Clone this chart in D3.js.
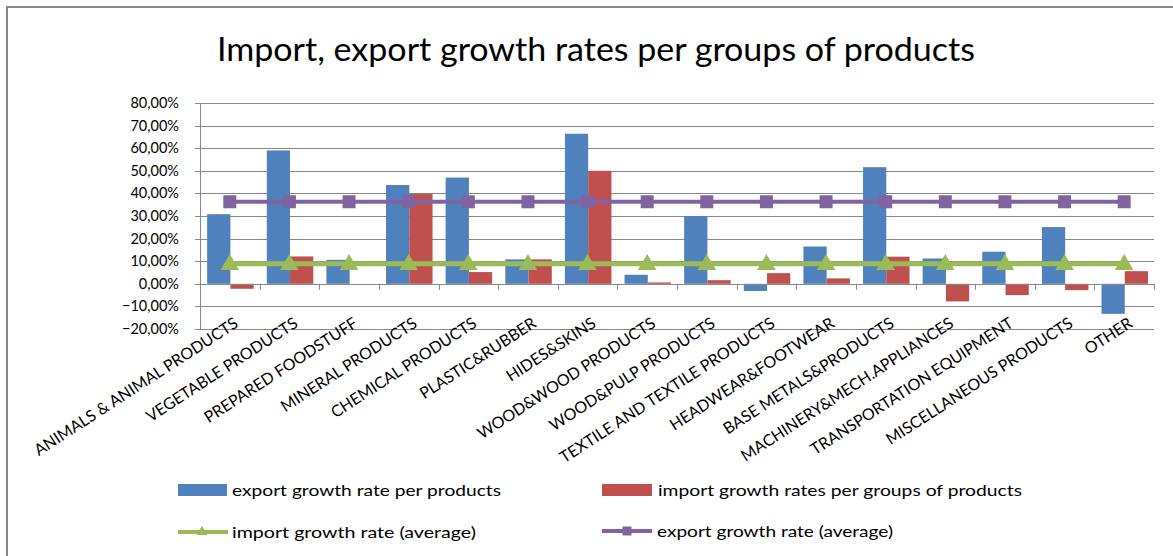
<!DOCTYPE html>
<html>
<head>
<meta charset="utf-8">
<script src="https://cdn.jsdelivr.net/npm/d3@7"></script>
<style>
  html, body { margin: 0; padding: 0; background: #fff; }
  svg { display: block; }
</style>
</head>
<body>
<svg id="chart" width="1173" height="556"></svg>
<script>
const categories = [
  "ANIMALS & ANIMAL PRODUCTS", "VEGETABLE PRODUCTS", "PREPARED FOODSTUFF", "MINERAL PRODUCTS",
  "CHEMICAL PRODUCTS", "PLASTIC&RUBBER", "HIDES&SKINS", "WOOD&WOOD PRODUCTS",
  "WOOD&PULP PRODUCTS", "TEXTILE AND TEXTILE PRODUCTS", "HEADWEAR&FOOTWEAR", "BASE METALS&PRODUCTS",
  "MACHINERY&MECH.APPLIANCES", "TRANSPORTATION EQUIPMENT", "MISCELLANEOUS PRODUCTS", "OTHER"
];
const exportRates = [30.8, 59.0, 10.6, 43.7, 47.0, 10.8, 66.4, 4.0, 30.0, -3.2, 16.5, 51.6, 11.2, 14.2, 25.1, -13.3];
const importRates = [-2.2, 12.1, 0.0, 39.8, 5.2, 10.8, 50.0, 0.6, 1.6, 4.7, 2.4, 12.0, -7.8, -5.0, -2.8, 5.6];
const importAverage = [8.9, 8.9, 8.9, 8.9, 8.9, 8.9, 8.9, 8.9, 8.9, 8.9, 8.9, 8.9, 8.9, 8.9, 8.9, 8.9];
const exportAverage = [36.3, 36.3, 36.3, 36.3, 36.3, 36.3, 36.3, 36.3, 36.3, 36.3, 36.3, 36.3, 36.3, 36.3, 36.3, 36.3];
const yTicks = [-20, -10, 0, 10, 20, 30, 40, 50, 60, 70, 80];
const titleText = "Import, export growth rates per groups of products";
const legendLabels = [
  "export growth rate per products",
  "import growth rates per groups of products",
  "import growth rate (average)",
  "export growth rate (average)"
];

(function () {
const C_EXP = "#4F81BD", C_IMP = "#C0504D", C_GREEN = "#9BBB59", C_PURPLE = "#8064A2";
const FONT = "Lato, 'Open Sans', sans-serif";

const svg = d3.select("#chart");

// outer chart border (left + top visible)
svg.append("path").attr("d", "M7,556 V7 H1173")
  .attr("fill", "none").attr("stroke", "#888").attr("stroke-width", 2);

// title
svg.append("text")
  .attr("x", 217).attr("y", 61)
  .attr("font-family", FONT).attr("font-size", 32)
  .attr("textLength", 758).attr("lengthAdjust", "spacingAndGlyphs")
  .attr("fill", "#000")
  .text(titleText);

const pLeft = 200, pRight = 1154, pTop = 103, pBottom = 329;

const x = d3.scaleBand().domain(categories).range([pLeft, pRight]).padding(0);
const bw = x.bandwidth();
const xi = d3.scaleBand().domain(["export", "import"]).range([bw * 0.12, bw * 0.9]).padding(0);
const y = d3.scaleLinear().domain([-20, 80]).range([pBottom, pTop]);

// gridlines
svg.append("g").selectAll("line").data(yTicks).join("line")
  .attr("x1", pLeft - 5).attr("x2", pRight)
  .attr("y1", d => Math.round(y(d)) + 0.5).attr("y2", d => Math.round(y(d)) + 0.5)
  .attr("stroke", "#888").attr("stroke-width", 1);

// y axis labels
svg.append("g").selectAll("text").data(yTicks).join("text")
  .attr("x", 179).attr("y", d => y(d))
  .attr("dy", "0.35em")
  .attr("text-anchor", "end")
  .attr("font-family", FONT).attr("font-size", 14.5).attr("fill", "#000")
  .text(d => d3.format(".2f")(d).replace(".", ",") + "%");

// y axis line
svg.append("line").attr("x1", pLeft + 0.5).attr("x2", pLeft + 0.5)
  .attr("y1", pTop).attr("y2", pBottom).attr("stroke", "#888");

// bars
const rows = categories.map((c, i) => ({ c, exp: exportRates[i], imp: importRates[i] }));
const g = svg.append("g");
rows.forEach(r => {
  [["export", r.exp, C_EXP], ["import", r.imp, C_IMP]].forEach(([k, v, col]) => {
    g.append("rect")
      .attr("x", x(r.c) + xi(k))
      .attr("width", xi.bandwidth())
      .attr("y", y(Math.max(0, v)))
      .attr("height", Math.abs(y(v) - y(0)))
      .attr("fill", col);
  });
});

// x axis line at 0 and ticks
svg.append("line").attr("x1", pLeft).attr("x2", pRight)
  .attr("y1", Math.round(y(0)) + 0.5).attr("y2", Math.round(y(0)) + 0.5).attr("stroke", "#888");
const boundaries = categories.map(c => x(c)).concat([pRight]);
svg.append("g").selectAll("line").data(boundaries).join("line")
  .attr("x1", d => Math.round(d) + 0.5).attr("x2", d => Math.round(d) + 0.5)
  .attr("y1", y(0)).attr("y2", y(0) + 6).attr("stroke", "#888");

// x labels
svg.append("g").selectAll("text").data(categories).join("text")
  .attr("transform", d => `translate(${x(d) + bw / 2 + 3},${pBottom - 13}) rotate(-33)`)
  .attr("text-anchor", "end")
  .attr("dy", "0.75em")
  .attr("font-family", FONT).attr("font-size", 16).attr("fill", "#000")
  .text(d => d);

// lines
const cx = c => x(c) + bw / 2;
const line = d3.line().x(d => cx(d.c)).y(d => y(d.v));
const expAvgData = categories.map((c, i) => ({ c, v: exportAverage[i] }));
const impAvgData = categories.map((c, i) => ({ c, v: importAverage[i] }));

svg.append("path").datum(expAvgData).attr("d", line)
  .attr("fill", "none").attr("stroke", C_PURPLE).attr("stroke-width", 4);
svg.append("g").selectAll("path").data(expAvgData).join("path")
  .attr("transform", d => `translate(${cx(d.c)},${y(d.v)})`)
  .attr("d", d3.symbol(d3.symbolSquare, 169))
  .attr("fill", C_PURPLE);

svg.append("path").datum(impAvgData).attr("d", line)
  .attr("fill", "none").attr("stroke", C_GREEN).attr("stroke-width", 5);
svg.append("g").selectAll("path").data(impAvgData).join("path")
  .attr("transform", d => `translate(${cx(d.c)},${y(d.v) + 1})`)
  .attr("d", d3.symbol(d3.symbolTriangle, 150))
  .attr("fill", C_GREEN);

// legend
const leg = svg.append("g").attr("font-family", FONT).attr("font-size", 16).attr("fill", "#000");
leg.append("rect").attr("x", 178).attr("y", 484).attr("width", 49).attr("height", 12).attr("fill", C_EXP);
leg.append("text").attr("x", 232).attr("y", 496).attr("textLength", 269).attr("lengthAdjust", "spacingAndGlyphs").text(legendLabels[0]);
leg.append("rect").attr("x", 602).attr("y", 484).attr("width", 50).attr("height", 12).attr("fill", C_IMP);
leg.append("text").attr("x", 658).attr("y", 496).attr("textLength", 364).attr("lengthAdjust", "spacingAndGlyphs").text(legendLabels[1]);

leg.append("line").attr("x1", 178).attr("x2", 228).attr("y1", 532).attr("y2", 532).attr("stroke", C_GREEN).attr("stroke-width", 4);
leg.append("path").attr("transform", "translate(202,532)").attr("d", d3.symbol(d3.symbolTriangle, 50)).attr("fill", C_GREEN);
leg.append("text").attr("x", 232).attr("y", 538).attr("textLength", 244).attr("lengthAdjust", "spacingAndGlyphs").text(legendLabels[2]);

leg.append("line").attr("x1", 602).attr("x2", 652).attr("y1", 531).attr("y2", 531).attr("stroke", C_PURPLE).attr("stroke-width", 4);
leg.append("path").attr("transform", "translate(627,531)").attr("d", d3.symbol(d3.symbolSquare, 81)).attr("fill", C_PURPLE);
leg.append("text").attr("x", 657).attr("y", 537).attr("textLength", 236).attr("lengthAdjust", "spacingAndGlyphs").text(legendLabels[3]);
})();
</script>
</body>
</html>
